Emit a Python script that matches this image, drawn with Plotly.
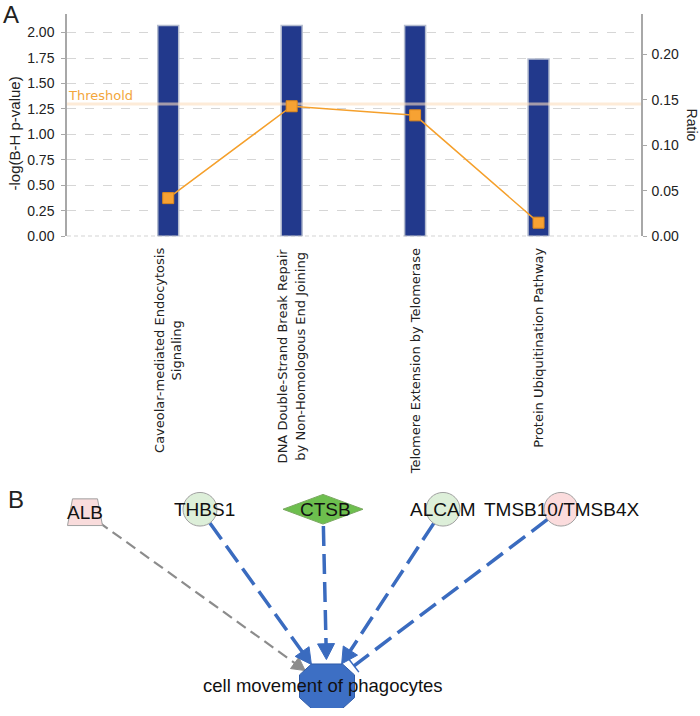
import numpy as np
import plotly.graph_objects as go

W, H = 700, 716

# ---------------- Panel A data ----------------
categories = [
    ["Caveolar-mediated Endocytosis", "Signaling"],
    ["DNA Double-Strand Break Repair", "by Non-Homologous End Joining"],
    ["Telomere Extension by Telomerase"],
    ["Protein Ubiquitination Pathway"],
]
neg_log_p = [2.07, 2.07, 2.07, 1.74]
ratio = [0.042, 0.143, 0.133, 0.015]
threshold = 1.3
left_ticks = [0.0, 0.25, 0.5, 0.75, 1.0, 1.25, 1.5, 1.75, 2.0]
ratio_ticks = [0.0, 0.05, 0.10, 0.15, 0.20]

# ---------------- Panel B data ----------------
node_names = ["ALB", "THBS1", "CTSB", "ALCAM", "TMSB10/TMSB4X"]
node_kind = ["trapezoid", "circle", "diamond", "circle", "circle"]
node_fill = ["#f9dcdc", "#ddefd9", "#6dbf4e", "#ddefd9", "#fbdcdd"]
node_x = [85, 200, 323, 443, 561]
node_y = [518, 515, 515, 515, 515]
edge_kind = ["gray", "blue", "blue", "blue", "bar"]
target_name = "cell movement of phagocytes"
target_x, target_y = 327, 694

fig = go.Figure()

xpos = list(range(len(categories)))
xr = [-0.82, 3.83]

fig.add_trace(go.Bar(
    x=xpos, y=neg_log_p, width=0.17,
    marker=dict(color="#22398c", line=dict(color="#b4bccf", width=1.5)),
    xaxis="x", yaxis="y", showlegend=False, hoverinfo="skip"))

fig.add_trace(go.Scatter(
    x=xr, y=[threshold, threshold], mode="lines",
    line=dict(color="rgba(252,222,190,0.6)", width=3),
    xaxis="x", yaxis="y", showlegend=False, hoverinfo="skip"))

fig.add_trace(go.Scatter(
    x=xpos, y=ratio, mode="lines+markers",
    line=dict(color="#f5a02c", width=1.5),
    marker=dict(symbol="square", size=11, color="#f7a233",
                line=dict(color="#e08a1c", width=1)),
    xaxis="x", yaxis="y2", showlegend=False, hoverinfo="skip"))

# ---------------- Panel B drawing ----------------
blue = "#3a6bbf"
gray = "#8c8c8c"
shapes = []
tx, ty = target_x, target_y
for sx, sy, kind in zip(node_x, node_y, edge_kind):
    d = np.array([tx - sx, ty - sy], dtype=float)
    u = d / np.linalg.norm(d)
    p = np.array([-u[1], u[0]])
    start = np.array([sx, sy]) + 17 * u
    if kind == "bar":
        end = np.array([tx, ty]) - 34 * u
        fig.add_trace(go.Scatter(x=[start[0], end[0]], y=[start[1], end[1]], mode="lines",
                                 line=dict(color=blue, width=3.5, dash="20px,8px"),
                                 xaxis="x3", yaxis="y3", showlegend=False, hoverinfo="skip"))
        b1 = end + 8 * p
        b2 = end - 8 * p
        fig.add_trace(go.Scatter(x=[b1[0], b2[0]], y=[b1[1], b2[1]], mode="lines",
                                 line=dict(color=blue, width=1.5),
                                 xaxis="x3", yaxis="y3", showlegend=False, hoverinfo="skip"))
        continue
    col = gray if kind == "gray" else blue
    hl, hw = (13, 7) if kind == "gray" else (16, 8.5)
    tip = np.array([tx, ty]) - 27 * u
    base = tip - hl * u
    fig.add_trace(go.Scatter(x=[start[0], base[0] + 2 * u[0]], y=[start[1], base[1] + 2 * u[1]],
                             mode="lines",
                             line=dict(color=col, width=2.2 if kind == "gray" else 3.5,
                                       dash="11px,6px" if kind == "gray" else "20px,8px"),
                             xaxis="x3", yaxis="y3", showlegend=False, hoverinfo="skip"))
    tri = [tip, base + hw * p, base - hw * p, tip]
    fig.add_trace(go.Scatter(x=[q[0] for q in tri], y=[q[1] for q in tri], mode="lines",
                             fill="toself", fillcolor=col, line=dict(color=col, width=1),
                             xaxis="x3", yaxis="y3", showlegend=False, hoverinfo="skip"))

# node shapes
for name, kind, fill, cx, cy in zip(node_names, node_kind, node_fill, node_x, node_y):
    if kind == "circle":
        shapes.append(dict(type="circle", xref="x3", yref="y3",
                           x0=cx - 17, x1=cx + 17, y0=cy - 17, y1=cy + 17,
                           fillcolor=fill, line=dict(color="#a0a0a0", width=1), layer="above"))
    elif kind == "diamond":
        path = f"M {cx-40},{cy} L {cx},{cy-15} L {cx+40},{cy} L {cx},{cy+15} Z"
        shapes.append(dict(type="path", xref="x3", yref="y3", path=path,
                           fillcolor=fill, line=dict(color="#7aa860", width=1), layer="above"))
    else:
        path = (f"M {cx-12.5},{cy-13.5} L {cx+12.5},{cy-13.5} "
                f"L {cx+17.5},{cy+13.5} L {cx-17.5},{cy+13.5} Z")
        shapes.append(dict(type="path", xref="x3", yref="y3", path=path,
                           fillcolor=fill, line=dict(color="#a0a0a0", width=1), layer="above"))

# octagon target (slightly wider than tall)
ohw, ohh, cxc, cyc = 27.5, 22.5, 12, 11
ox = [tx - ohw + cxc, tx + ohw - cxc, tx + ohw, tx + ohw, tx + ohw - cxc, tx - ohw + cxc, tx - ohw, tx - ohw]
oy = [ty - ohh, ty - ohh, ty - ohh + cyc, ty + ohh - cyc, ty + ohh, ty + ohh, ty + ohh - cyc, ty - ohh + cyc]
opath = "M " + " L ".join(f"{a:.2f},{b:.2f}" for a, b in zip(ox, oy)) + " Z"
shapes.append(dict(type="path", xref="x3", yref="y3", path=opath,
                   fillcolor="#3d6fc4", line=dict(color="#2f5ba8", width=1), layer="above"))

# bottom dashed axis line
shapes.append(dict(type="line", xref="paper", yref="y", x0=67 / W, x1=641 / W, y0=0, y1=0,
                   line=dict(color="#a8a8a8", width=1.2, dash="4px,3px"), layer="above"))

annotations = []
sans = "Liberation Sans, Arial, sans-serif"
verd = "DejaVu Sans, Verdana, sans-serif"

for i, lines in enumerate(categories):
    txt = "<br>".join(f"<span style='font-size:13px'>{ln}</span>" for ln in lines)
    annotations.append(dict(x=i, xref="x", y=1 - 249 / H, yref="paper", text=txt,
                            textangle=-90, xanchor="center", yanchor="top", showarrow=False,
                            align="center", font=dict(family=verd, size=13.8, color="#222")))

annotations.append(dict(x=66 / W, xref="paper", y=threshold, yref="y", text="Threshold",
                        xanchor="left", yanchor="bottom", yshift=-1, showarrow=False,
                        font=dict(family=verd, size=13, color="#f3a63c")))
annotations.append(dict(x=14 / W, xref="paper", y=1 - 135 / H, yref="paper",
                        text="-log(B-H p-value)", textangle=-90, showarrow=False,
                        xanchor="center", yanchor="middle",
                        font=dict(family=sans, size=15, color="#222")))
annotations.append(dict(x=692 / W, xref="paper", y=1 - 126 / H, yref="paper",
                        text="Ratio", textangle=90, showarrow=False,
                        xanchor="center", yanchor="middle",
                        font=dict(family=sans, size=14, color="#222")))
annotations.append(dict(x=11 / W, xref="paper", y=1 - 15 / H, yref="paper", text="A",
                        showarrow=False, xanchor="center", yanchor="middle",
                        font=dict(family=sans, size=24, color="#222")))
annotations.append(dict(x=16 / W, xref="paper", y=1 - 505 / H, yref="paper", text="B",
                        showarrow=False, xanchor="center", yanchor="middle",
                        font=dict(family=sans, size=24, color="#222")))

label_dx = [0, 4, 2, -1, 1]
for name, cx, cy, dx in zip(node_names, node_x, node_y, label_dx):
    annotations.append(dict(x=cx + dx, y=cy, xref="x3", yref="y3", text=name, showarrow=False,
                            xanchor="center", yanchor="middle",
                            font=dict(family=sans, size=19, color="#111")))
annotations.append(dict(x=target_x - 4, y=target_y - 1, xref="x3", yref="y3", text=target_name,
                        showarrow=False, xanchor="center", yanchor="middle",
                        font=dict(family=sans, size=18.5, color="#111")))

fig.update_layout(
    width=W, height=H, margin=dict(l=0, r=0, t=0, b=0, pad=0),
    paper_bgcolor="white", plot_bgcolor="rgba(0,0,0,0)",
    showlegend=False, shapes=shapes, annotations=annotations,
    xaxis=dict(domain=[67 / W, 641 / W], range=xr, showticklabels=False, showgrid=False,
               zeroline=False, ticks="", anchor="y"),
    yaxis=dict(domain=[1 - 239 / H, 1 - 14 / H], range=[0, 2.184], tickvals=left_ticks,
               tickformat=".2f", showgrid=True, gridcolor="#d6d6d6", griddash="dash",
               gridwidth=1, zeroline=False, showline=True, linecolor="#a8a8a8", linewidth=1.5,
               ticks="outside", ticklen=4, tickcolor="#a8a8a8", anchor="x",
               tickfont=dict(family=sans, size=14, color="#222"), ticklabelstandoff=4),
    yaxis2=dict(overlaying="y", side="right", range=[0, 0.2446], tickvals=ratio_ticks,
                tickformat=".2f", showgrid=False, zeroline=False, showline=True,
                linecolor="#a8a8a8", linewidth=1.5, ticks="outside", ticklen=4,
                tickcolor="#a8a8a8", anchor="x",
                tickfont=dict(family=sans, size=14, color="#222"), ticklabelstandoff=2),
    xaxis3=dict(domain=[0, 1], range=[0, W], visible=False, anchor="y3"),
    yaxis3=dict(domain=[0, 246 / H], range=[H, 470], visible=False, anchor="x3"),
)

fig.write_html(
    "out.html",
    config={"displayModeBar": False, "responsive": False},
    post_script=(
        "document.documentElement.style.margin='0';"
        "document.body.style.margin='0';document.body.style.overflow='hidden';"
        "var gd=document.getElementById('{plot_id}');"
        "gd.style.position='fixed';gd.style.left='0px';gd.style.top='0px';"
    ),
)
